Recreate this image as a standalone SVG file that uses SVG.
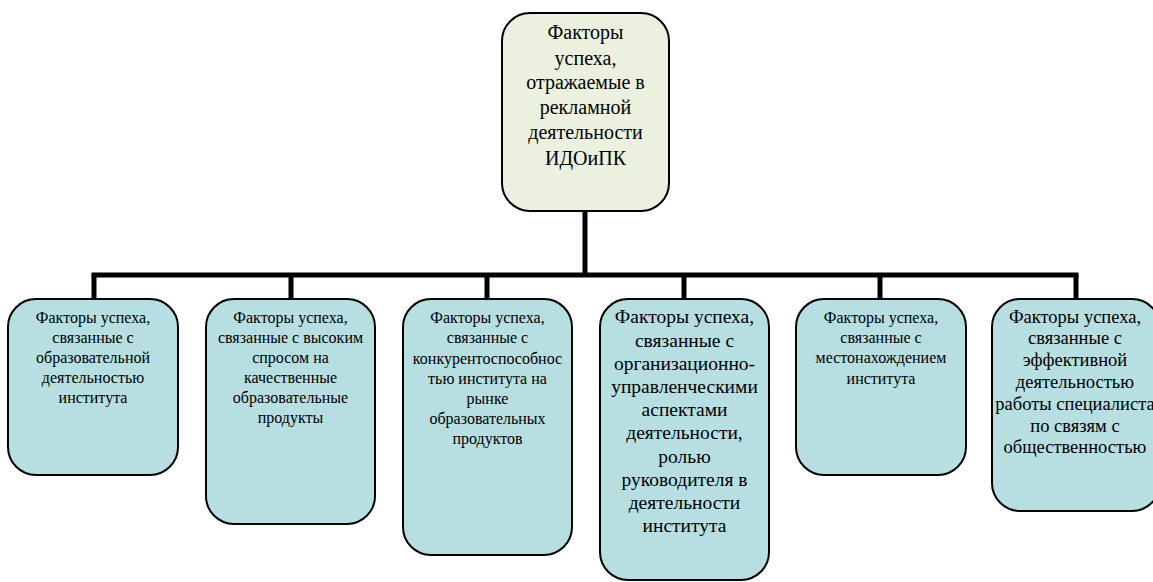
<svg xmlns="http://www.w3.org/2000/svg" width="1153" height="582" viewBox="0 0 1153 582">
<style>
.box{fill:#b7dfe2;stroke:#000;stroke-width:2}
.top{fill:#ebf1de;stroke:#000;stroke-width:2}
.conn{stroke:#000;stroke-width:5;fill:none}
</style>
<rect width="1153" height="582" fill="#fff"/>
<g id="connectors">
<line class="conn" x1="585" y1="211" x2="585" y2="275"/>
<line class="conn" x1="91.5" y1="275" x2="1078.5" y2="275"/>
<line class="conn" x1="94" y1="275" x2="94" y2="299"/>
<line class="conn" x1="291" y1="275" x2="291" y2="299"/>
<line class="conn" x1="487" y1="275" x2="487" y2="299"/>
<line class="conn" x1="684" y1="275" x2="684" y2="299"/>
<line class="conn" x1="880" y1="275" x2="880" y2="299"/>
<line class="conn" x1="1076" y1="275" x2="1076" y2="299"/>
</g>
<g id="root" font-family="'Liberation Serif', Tinos, 'Times New Roman', 'DejaVu Serif', serif" font-size="20" text-anchor="middle" fill="#000">
<rect class="top" x="502" y="13" width="167" height="198" rx="28"/>
<text x="585.5" y="39">Факторы</text>
<text x="585.5" y="65">успеха,</text>
<text x="585.5" y="89">отражаемые в</text>
<text x="585.5" y="114">рекламной</text>
<text x="585.5" y="139">деятельности</text>
<text x="585.5" y="165">ИДОиПК</text>
</g>
<g id="n1" font-family="'Liberation Serif', Tinos, 'Times New Roman', 'DejaVu Serif', serif" font-size="16" text-anchor="middle" fill="#000">
<rect class="box" x="8" y="299" width="170" height="176" rx="28"/>
<text x="93" y="323">Факторы успеха,</text>
<text x="93" y="343">связанные с</text>
<text x="93" y="363">образовательной</text>
<text x="93" y="383">деятельностью</text>
<text x="93" y="403">института</text>
</g>
<g id="n2" font-family="'Liberation Serif', Tinos, 'Times New Roman', 'DejaVu Serif', serif" font-size="16" text-anchor="middle" fill="#000">
<rect class="box" x="206" y="299" width="169" height="225" rx="28"/>
<text x="290.5" y="323">Факторы успеха,</text>
<text x="290.5" y="343">связанные с высоким</text>
<text x="290.5" y="363">спросом на</text>
<text x="290.5" y="383">качественные</text>
<text x="290.5" y="403">образовательные</text>
<text x="290.5" y="423">продукты</text>
</g>
<g id="n3" font-family="'Liberation Serif', Tinos, 'Times New Roman', 'DejaVu Serif', serif" font-size="16" text-anchor="middle" fill="#000">
<rect class="box" x="403" y="299" width="169" height="256" rx="28"/>
<text x="487.5" y="323">Факторы успеха,</text>
<text x="487.5" y="343">связанные с</text>
<text x="487.5" y="364">конкурентоспособнос</text>
<text x="487.5" y="384">тью института на</text>
<text x="487.5" y="404">рынке</text>
<text x="487.5" y="424">образовательных</text>
<text x="487.5" y="444">продуктов</text>
</g>
<g id="n4" font-family="'Liberation Serif', Tinos, 'Times New Roman', 'DejaVu Serif', serif" font-size="19.5" text-anchor="middle" fill="#000">
<rect class="box" x="600" y="299" width="169" height="281" rx="28"/>
<text x="684.5" y="323">Факторы успеха,</text>
<text x="684.5" y="347">связанные с</text>
<text x="684.5" y="370">организационно-</text>
<text x="684.5" y="393">управленческими</text>
<text x="684.5" y="416">аспектами</text>
<text x="684.5" y="439">деятельности,</text>
<text x="684.5" y="463">ролью</text>
<text x="684.5" y="486">руководителя в</text>
<text x="684.5" y="509">деятельности</text>
<text x="684.5" y="532">института</text>
</g>
<g id="n5" font-family="'Liberation Serif', Tinos, 'Times New Roman', 'DejaVu Serif', serif" font-size="16" text-anchor="middle" fill="#000">
<rect class="box" x="796" y="299" width="170" height="176" rx="28"/>
<text x="881" y="323">Факторы успеха,</text>
<text x="881" y="343">связанные с</text>
<text x="881" y="363">местонахождением</text>
<text x="881" y="384">института</text>
</g>
<g id="n6" font-family="'Liberation Serif', Tinos, 'Times New Roman', 'DejaVu Serif', serif" font-size="18.5" text-anchor="middle" fill="#000">
<rect class="box" x="992" y="299" width="168" height="212" rx="28"/>
<text x="1075" y="323">Факторы успеха,</text>
<text x="1075" y="344">связанные с</text>
<text x="1075" y="366">эффективной</text>
<text x="1075" y="388">деятельностью</text>
<text x="1075" y="410">работы специалиста</text>
<text x="1075" y="432">по связям с</text>
<text x="1075" y="453">общественностью</text>
</g>
</svg>
